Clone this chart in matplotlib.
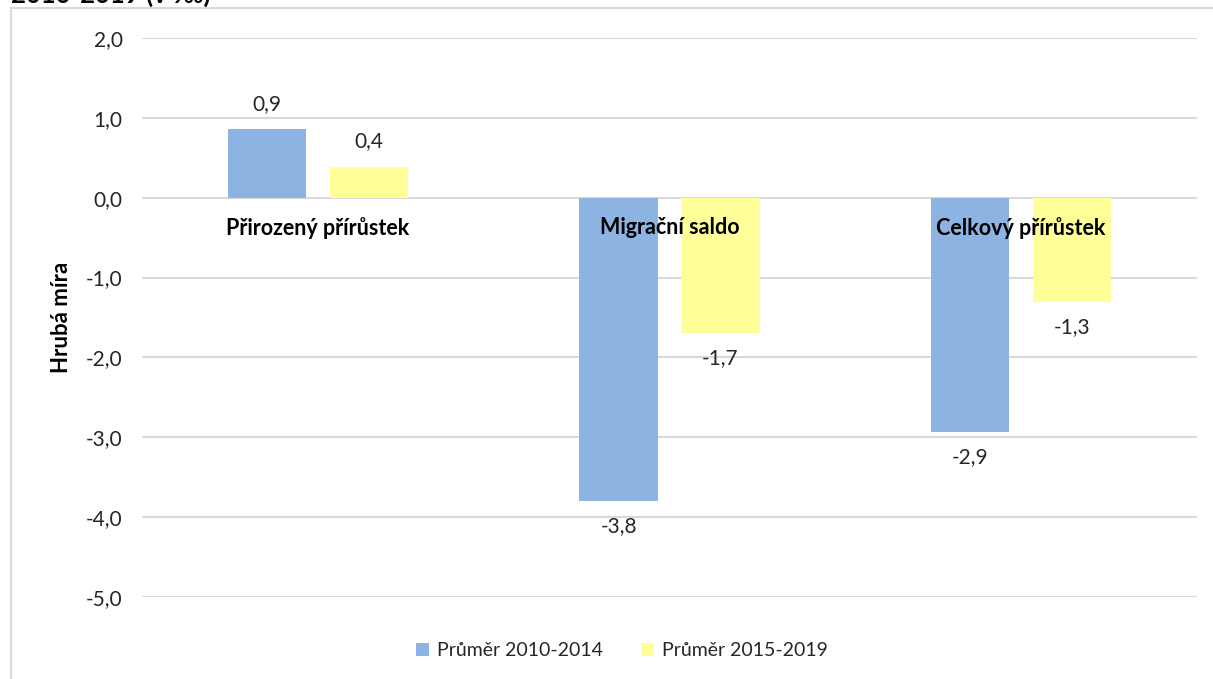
import matplotlib
matplotlib.use("Agg")
import matplotlib.pyplot as plt
from matplotlib.patches import Rectangle
import numpy as np

plt.rcParams['font.family'] = ['Lato', 'DejaVu Sans']

categories = ['Přirozený přírůstek', 'Migrační saldo', 'Celkový přírůstek']
series_names = ['Průměr 2010-2014', 'Průměr 2015-2019']
avg_2010_2014 = [0.86, -3.80, -2.94]
avg_2015_2019 = [0.39, -1.70, -1.31]
yticks = [2, 1, 0, -1, -2, -3, -4, -5]

colors = ['#8db3e2', '#ffff99']

fig = plt.figure(figsize=(12.13, 6.79), dpi=100)
ax = fig.add_axes([142/1213, 1 - 597/679, (1197 - 142)/1213, (597 - 38)/679])

# outer chart border (cut at right/bottom like the screenshot)
fig.patches.append(Rectangle((11/1213, -0.05), 1.2, 1 - 8/679 + 0.05,
                             transform=fig.transFigure, fill=False,
                             edgecolor='#d9d9d9', lw=1.5))
# title, mostly cropped off the top
fig.text(11/1213, 1 - 3/679, '2010-2019 (v ‰)', fontsize=18.5, fontweight='bold',
         va='baseline', ha='left')

x = np.arange(len(categories))
w = 0.222
off = 0.145
for vals, name, col, sgn in [(avg_2010_2014, series_names[0], colors[0], -1),
                             (avg_2015_2019, series_names[1], colors[1], 1)]:
    bars = ax.bar(x + sgn * off, vals, w, color=col, label=name, zorder=3)
    for b, v in zip(bars, vals):
        dy = 25 if v >= 0 else -25
        ax.annotate(f'{v:.1f}'.replace('.', ','),
                    (b.get_x() + b.get_width() / 2, v),
                    xytext=(0, dy), textcoords='offset pixels',
                    ha='center', va='center', fontsize=15, color='#262626')

ax.set_xlim(-0.5, 2.5)
ax.set_ylim(-5, 2)
ax.set_yticks(yticks)
ax.set_yticklabels([f'{t:.1f}'.replace('.', ',') for t in yticks])
ax.grid(axis='y', color='#d9d9d9', lw=1.5, zorder=0)
for s in ax.spines.values():
    s.set_visible(False)
ax.tick_params(axis='y', length=0, pad=14, labelsize=15, labelcolor='#262626')
ax.tick_params(axis='x', length=0)
ax.set_xticks([])

# category labels just under the zero line
for xi, c in zip(x, categories):
    ax.annotate(c, (xi, 0), xytext=(0, -30), textcoords='offset pixels',
                ha='center', va='center', fontsize=15.5, fontweight='bold')

ax.set_ylabel('Hrubá míra', fontsize=16, fontweight='bold')
ax.yaxis.set_label_coords(-0.066, 0.5)

ax.legend(loc='upper center', bbox_to_anchor=(0.455, -0.05), ncol=2, frameon=False,
          fontsize=14, handlelength=0.65, handleheight=0.65, columnspacing=2.0,
          handletextpad=0.4, labelcolor='#262626')

fig.savefig('out.png', dpi=100)
